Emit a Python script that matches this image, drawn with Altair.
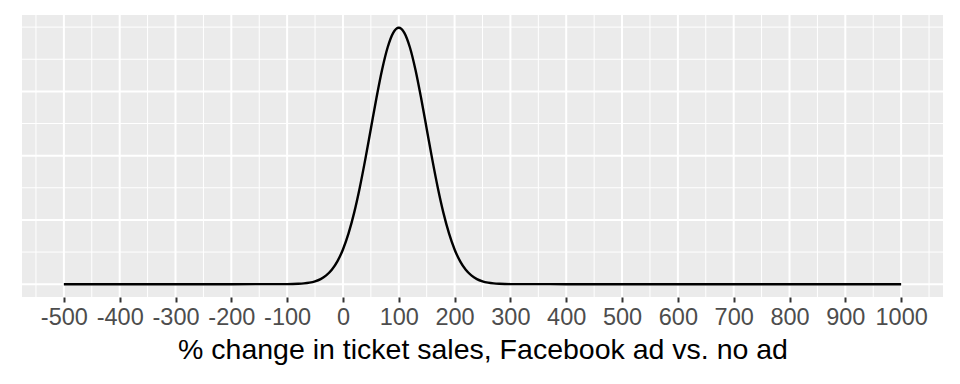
import altair as alt
import pandas as pd

# Curve readings: % change (x) and density (y)
x_vals = [-500, -200] + list(range(-100, 301, 10)) + [400, 1000]
half = [0.0000027, 0.0000058, 0.0000122, 0.0000246, 0.0000477, 0.0000886,
        0.0001583, 0.0002717, 0.0004479, 0.0007095, 0.0010798, 0.0015790,
        0.0022184, 0.0029945, 0.0038837, 0.0048394, 0.0057938, 0.0066645,
        0.0073654, 0.0078209]
peak = [0.0079788]
density = [0.0, 0.0] + half + peak + half[::-1] + [0.0, 0.0]

x_major = list(range(-500, 1001, 100))
x_minor = list(range(-550, 1051, 100))
y_major = [0.0, 0.002, 0.004, 0.006]
y_minor = [0.001, 0.003, 0.005, 0.007, 0.008]

curve = pd.DataFrame({"x": x_vals, "y": density})

xscale = alt.Scale(domain=[-575, 1075], nice=False, zero=False)
yscale = alt.Scale(domain=[-0.000399, 0.008377], nice=False, zero=False)

xaxis = alt.Axis(values=x_major, grid=False, domain=False, ticks=True,
                 labelExpr="'' + datum.value",
                 tickColor="#333333", tickWidth=2, tickSize=5,
                 labelColor="#4D4D4D", labelFontSize=23.5, labelFont="Liberation Sans",
                 labelPadding=3, title="% change in ticket sales, Facebook ad vs. no ad",
                 titleFont="Liberation Sans", titleFontSize=28.5, titleFontWeight="normal",
                 titleColor="#000000", titlePadding=7)

def vrules(vals, w):
    return alt.Chart(pd.DataFrame({"x": vals})).mark_rule(color="white", strokeWidth=w).encode(
        x=alt.X("x:Q", scale=xscale, axis=xaxis))

def hrules(vals, w):
    return alt.Chart(pd.DataFrame({"y": vals})).mark_rule(color="white", strokeWidth=w).encode(
        y=alt.Y("y:Q", scale=yscale, axis=None))

line = alt.Chart(curve).mark_line(color="black", strokeWidth=2.4, interpolate="monotone").encode(
    x=alt.X("x:Q", scale=xscale, axis=xaxis),
    y=alt.Y("y:Q", scale=yscale, axis=None),
)

chart = alt.layer(
    vrules(x_minor, 1), hrules(y_minor, 1),
    vrules(x_major, 2), hrules(y_major, 2),
    line,
).properties(
    width=921, height=282,
    autosize=alt.AutoSizeParams(type="none"),
    padding={"left": 14, "top": 7, "right": 9, "bottom": 80},
    background="white",
).configure_view(fill="#EBEBEB", stroke=None)

chart.save("out.html", embed_options={"renderer": "svg", "actions": False})
